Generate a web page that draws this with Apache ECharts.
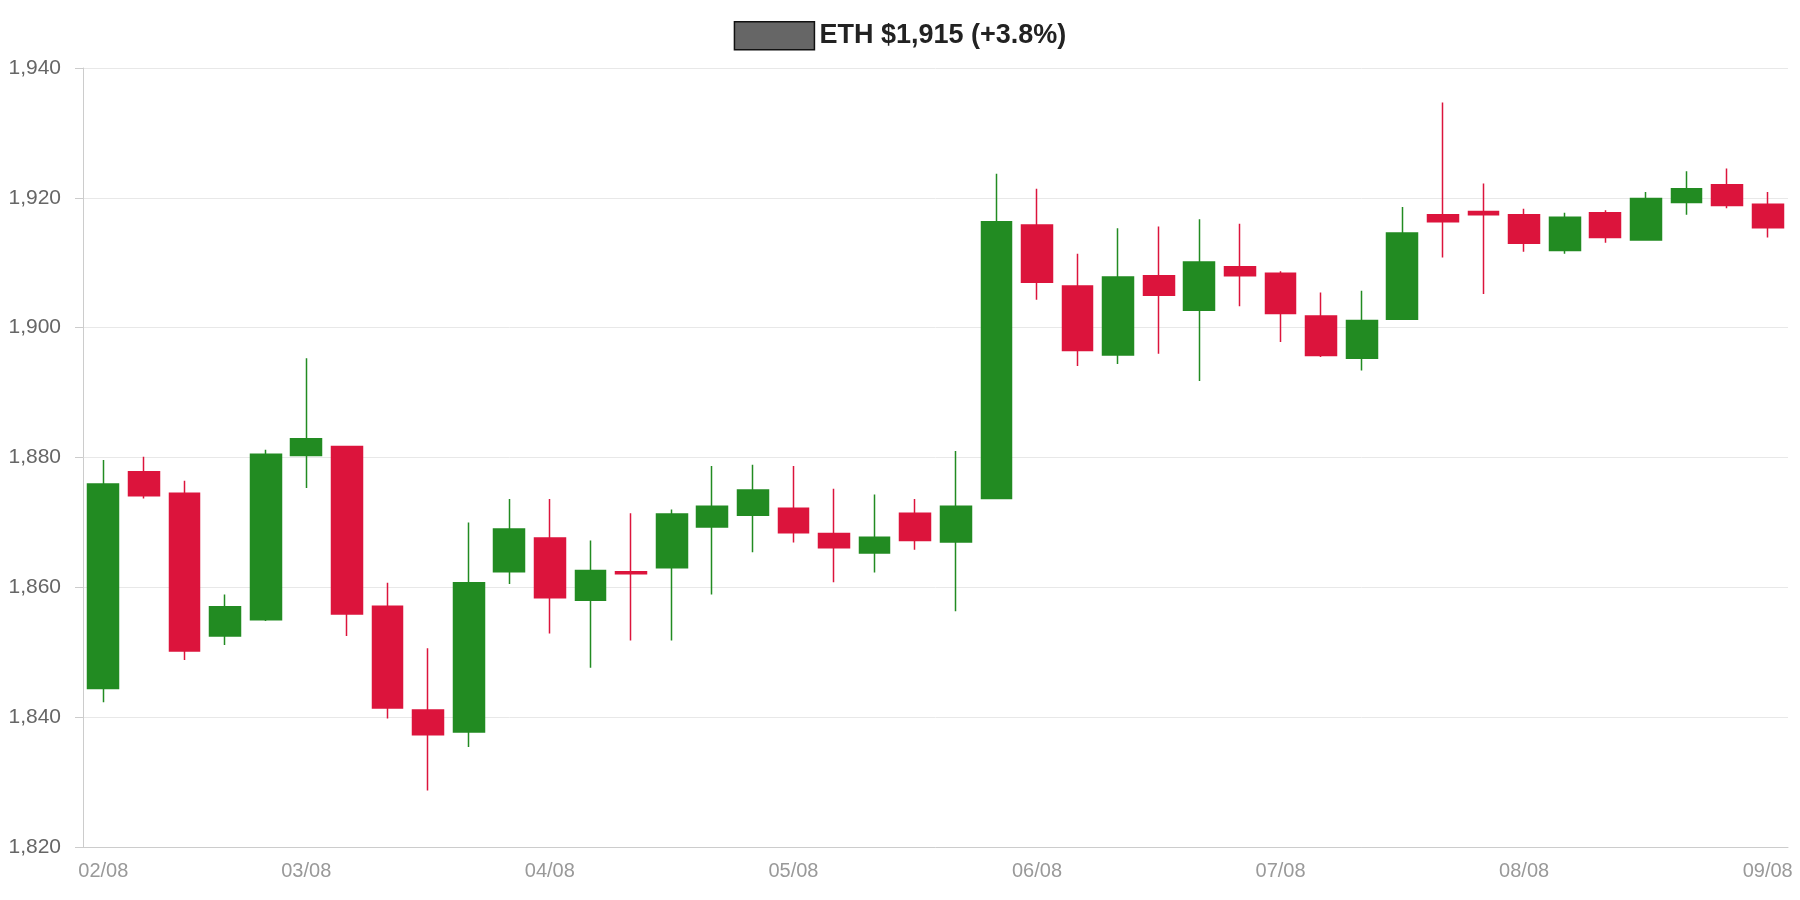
<!DOCTYPE html>
<html><head><meta charset="utf-8">
<script src="https://cdn.jsdelivr.net/npm/echarts@6/dist/echarts.min.js"></script>
<style>html,body{margin:0;padding:0;background:#fff}#c{width:1800px;height:900px}</style>
</head><body><div id="c"></div>
<script>
const categories = [
'02/08 04:00','02/08 08:00','02/08 12:00','02/08 16:00','02/08 20:00',
'03/08 00:00','03/08 04:00','03/08 08:00','03/08 12:00','03/08 16:00','03/08 20:00',
'04/08 00:00','04/08 04:00','04/08 08:00','04/08 12:00','04/08 16:00','04/08 20:00',
'05/08 00:00','05/08 04:00','05/08 08:00','05/08 12:00','05/08 16:00','05/08 20:00',
'06/08 00:00','06/08 04:00','06/08 08:00','06/08 12:00','06/08 16:00','06/08 20:00',
'07/08 00:00','07/08 04:00','07/08 08:00','07/08 12:00','07/08 16:00','07/08 20:00',
'08/08 00:00','08/08 04:00','08/08 08:00','08/08 12:00','08/08 16:00','08/08 20:00',
'09/08 00:00'];
const tickIndices = [0,5,11,17,23,29,35,41];
const opens  = [1844.4,1877.8,1874.5,1852.5,1855.0,1880.3,1881.7,1857.1,1841.1,1837.7,1862.4,1867.6,1858.0,1862.4,1863.0,1869.3,1871.1,1872.2,1868.3,1865.3,1871.4,1867.0,1873.7,1915.8,1906.4,1895.8,1908.0,1902.7,1909.4,1908.4,1901.8,1895.3,1901.3,1917.4,1917.9,1917.4,1911.9,1917.7,1913.5,1919.3,1922.0,1919.0];
const closes = [1875.9,1874.1,1850.2,1857.0,1880.5,1882.9,1855.9,1841.4,1837.3,1860.7,1869.0,1858.4,1862.6,1862.1,1871.3,1872.5,1875.0,1868.4,1866.1,1867.7,1867.2,1872.5,1916.3,1907.0,1896.5,1907.8,1905.0,1910.1,1908.0,1902.2,1895.7,1901.1,1914.6,1916.3,1917.4,1913.0,1917.0,1913.9,1919.9,1921.4,1918.8,1915.4];
const lows   = [1842.3,1873.7,1848.8,1851.1,1854.8,1875.3,1852.5,1839.8,1828.7,1835.4,1860.5,1852.9,1847.6,1851.8,1851.8,1858.9,1865.4,1866.9,1860.8,1862.3,1865.8,1856.3,1873.7,1904.3,1894.1,1894.4,1896.0,1891.8,1903.3,1897.8,1895.5,1893.4,1901.3,1910.8,1905.2,1911.7,1911.4,1913.1,1913.5,1917.4,1918.4,1913.9];
const highs  = [1879.6,1880.1,1876.4,1858.9,1881.2,1895.3,1881.7,1860.7,1850.6,1870.0,1873.6,1873.6,1867.2,1871.4,1872.0,1878.7,1878.9,1878.7,1875.2,1874.3,1873.6,1881.0,1923.7,1921.4,1911.4,1915.3,1915.6,1916.7,1916.0,1908.7,1905.4,1905.7,1918.6,1934.7,1922.2,1918.3,1917.7,1918.1,1920.9,1924.1,1924.5,1920.9];
const seriesName = 'ETH $1,915 (+3.8%)';
const data = opens.map((o,i)=>[o, closes[i], lows[i], highs[i]]);
const chart = echarts.init(document.getElementById('c'));
chart.setOption({
  animation:false,
  legend:{top:16,left:'center',itemWidth:80,itemHeight:28,itemGap:14,
    textStyle:{fontSize:27,fontWeight:'bold',color:'#222',fontFamily:'Liberation Sans'},
    data:[{name:seriesName,icon:'rect',itemStyle:{color:'#666',borderColor:'#111',borderWidth:1.5}}]},
  grid:{left:83,right:12,top:68,bottom:53},
  xAxis:{type:'category',data:categories,boundaryGap:true,
    axisLine:{lineStyle:{color:'#ccc'}},axisTick:{show:false},
    axisLabel:{interval:(i)=>tickIndices.includes(i),formatter:v=>v.slice(0,5),
      color:'#999',fontSize:20,fontFamily:'Liberation Sans',margin:14},
    splitLine:{show:false}},
  yAxis:{type:'value',min:1820,max:1940,interval:20,
    axisLine:{show:true,lineStyle:{color:'#ccc'}},axisTick:{show:true,length:8,lineStyle:{color:'#ccc'}},
    axisLabel:{color:'#666',fontSize:21,fontFamily:'Liberation Sans',margin:22,
      formatter:v=>v.toLocaleString('en-US')},
    splitLine:{lineStyle:{color:'#e8e8e8'}}},
  series:[{name:seriesName,type:'candlestick',data:data,barWidth:'77%',
    itemStyle:{color:'#228B22',color0:'#DC143C',borderColor:'#228B22',borderColor0:'#DC143C',borderWidth:1.5}}]
});
</script></body></html>
